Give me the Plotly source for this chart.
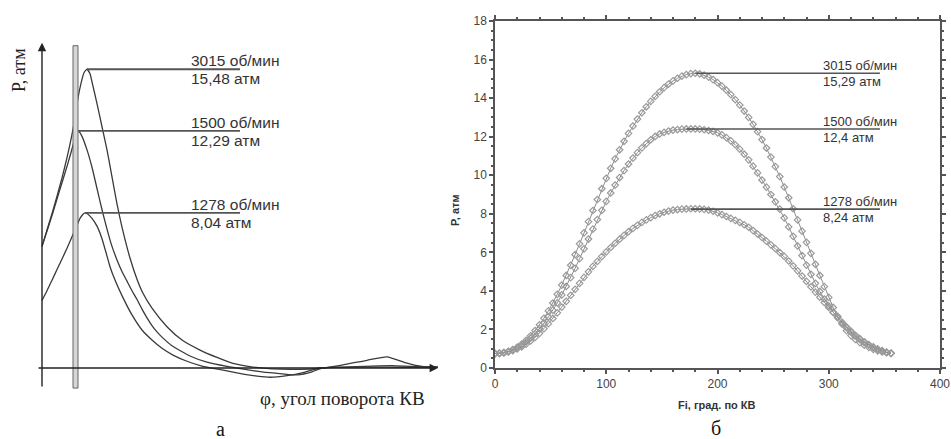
import plotly.graph_objects as go

# ---------- panel "а": schematic pressure curves (arbitrary phi units) ----------
a_u_3015 = [0, 5, 10, 15, 20, 25, 30, 33, 36, 39, 42, 45, 48, 51, 55, 60, 65, 70, 75, 80, 88, 95, 101,
            110, 125, 140, 158, 175, 191, 211, 230, 258, 280, 300, 325, 345, 365, 380, 396]
a_p_3015 = [6.3, 7.15, 8.0, 8.9, 9.85, 10.9, 12.1, 13.0, 14.0, 14.75, 15.3, 15.48, 15.25, 14.6, 13.7, 12.5,
            11.3, 9.9, 8.5, 7.3, 5.7, 4.6, 3.87, 3.1, 2.14, 1.45, 0.93, 0.55, 0.24, 0.05, -0.05, -0.07,
            0.0, 0.15, 0.4, 0.58, 0.25, 0.08, 0.05]

a_u_1500 = [0, 5, 10, 15, 20, 25, 30, 33, 35, 37, 40, 45, 50, 55, 60, 65, 70, 75, 80, 85, 90, 95, 100,
            105, 110, 115, 120, 130, 148, 165, 185, 200, 220, 240, 255, 270, 280, 300, 330, 350, 370, 396]
a_p_1500 = [6.3, 7.1, 7.9, 8.75, 9.6, 10.45, 11.35, 11.95, 12.29, 12.25, 12.0, 11.3, 10.4, 9.3, 8.2, 7.2,
            6.3, 5.6, 5.0, 4.5, 4.0, 3.55, 3.05, 2.6, 2.2, 1.87, 1.6, 1.15, 0.62, 0.3, 0.08, -0.05, -0.2,
            -0.3, -0.36, -0.2, 0.0, 0.05, 0.1, 0.12, 0.08, 0.05]

a_u_1278 = [0, 5, 10, 15, 20, 25, 30, 35, 38, 41, 43, 46, 50, 55, 60, 65, 68, 73, 80, 90, 100, 110, 120,
            131, 145, 160, 180, 200, 215, 228, 245, 260, 278, 300, 330, 360, 396]
a_p_1278 = [3.5, 4.0, 4.55, 5.1, 5.65, 6.2, 6.8, 7.4, 7.75, 7.97, 8.04, 7.97, 7.75, 7.35, 6.7, 5.8, 5.25,
            4.56, 3.75, 2.75, 1.97, 1.45, 1.02, 0.67, 0.35, 0.1, -0.1, -0.3, -0.42, -0.48, -0.4, -0.25,
            0.0, 0.03, 0.05, 0.04, 0.03]

a_rpm = ["3015 об/мин", "1500 об/мин", "1278 об/мин"]
a_peak = ["15,48 атм", "12,29 атм", "8,04 атм"]

# ---------- panel "б": computed pressure vs crank angle ----------
b_phi = list(range(0, 357, 4))
b_p_3015 = [0.75, 0.77, 0.81, 0.87, 0.96, 1.08, 1.24, 1.44, 1.67, 1.94,
            2.24, 2.58, 2.96, 3.37, 3.82, 4.30, 4.80, 5.33, 5.88, 6.44,
            7.01, 7.59, 8.17, 8.74, 9.30, 9.84, 10.36, 10.85, 11.32, 11.76,
            12.17, 12.55, 12.91, 13.24, 13.55, 13.83, 14.09, 14.33, 14.54, 14.73,
            14.89, 15.03, 15.14, 15.22, 15.27, 15.29,
            15.26, 15.19, 15.09, 14.96, 14.80, 14.62, 14.41, 14.18, 13.92, 13.64,
            13.33, 13.00, 12.64, 12.26, 11.85, 11.41, 10.94, 10.45, 9.93, 9.39,
            8.83, 8.26, 7.68, 7.10, 6.52, 5.95, 5.38, 4.80, 4.22, 3.66,
            3.14, 2.68, 2.28, 1.94, 1.68, 1.48, 1.32, 1.18, 1.07, 0.97,
            0.89, 0.83, 0.79, 0.76]
b_p_1500 = [0.75, 0.76, 0.79, 0.85, 0.93, 1.04, 1.18, 1.35, 1.55, 1.78,
            2.04, 2.33, 2.65, 3.00, 3.38, 3.79, 4.23, 4.69, 5.17, 5.67,
            6.18, 6.69, 7.20, 7.70, 8.18, 8.64, 9.08, 9.49, 9.88, 10.24,
            10.58, 10.89, 11.17, 11.42, 11.64, 11.84, 12.01, 12.14, 12.22, 12.29,
            12.34, 12.37, 12.39, 12.40, 12.40, 12.40,
            12.39, 12.36, 12.32, 12.27, 12.20, 12.09, 11.95, 11.78, 11.58, 11.35,
            11.09, 10.80, 10.47, 10.12, 9.75, 9.38, 9.00, 8.62, 8.24, 7.79,
            7.32, 6.83, 6.33, 5.83, 5.34, 4.86, 4.39, 3.97, 3.58, 3.22,
            2.90, 2.61, 2.34, 2.09, 1.86, 1.65, 1.47, 1.31, 1.18, 1.06,
            0.96, 0.88, 0.81, 0.76]
b_p_1278 = [0.75, 0.76, 0.78, 0.83, 0.90, 0.99, 1.10, 1.24, 1.40, 1.59,
            1.80, 2.04, 2.30, 2.57, 2.86, 3.16, 3.46, 3.77, 4.08, 4.39,
            4.70, 4.99, 5.27, 5.53, 5.78, 6.02, 6.25, 6.47, 6.68, 6.88,
            7.07, 7.24, 7.40, 7.55, 7.68, 7.80, 7.91, 8.00, 8.08, 8.14,
            8.19, 8.22, 8.24, 8.25, 8.26, 8.26,
            8.25, 8.23, 8.19, 8.13, 8.05, 7.96, 7.86, 7.76, 7.66, 7.55,
            7.43, 7.30, 7.13, 6.95, 6.77, 6.58, 6.39, 6.19, 5.99, 5.79,
            5.55, 5.30, 5.04, 4.77, 4.49, 4.21, 3.94, 3.67, 3.40, 3.14,
            2.88, 2.62, 2.37, 2.13, 1.91, 1.70, 1.52, 1.36, 1.22, 1.10,
            0.99, 0.90, 0.82, 0.77]

b_rpm = ["3015 об/мин", "1500 об/мин", "1278 об/мин"]
b_peak_vals = [15.29, 12.4, 8.24]
b_peak = ["15,29 атм", "12,4 атм", "8,24 атм"]

SANS = "Liberation Sans, Arial, sans-serif"
SERIF = "Liberation Serif, Times New Roman, serif"
W, H = 951, 439


def px(x):
    return x / W


def py(y):
    return 1 - y / H


def note(x, y, text, font, angle=0):
    # free text placed in page pixels, centred on (x, y)
    return dict(xref="paper", yref="paper", x=px(x), y=py(y), text=text, textangle=angle,
                showarrow=False, xanchor="center", yanchor="middle", font=font)


fig = go.Figure()

# panel а curves
for u, p in [(a_u_3015, a_p_3015), (a_u_1500, a_p_1500), (a_u_1278, a_p_1278)]:
    fig.add_trace(go.Scatter(x=u, y=p, mode="lines", xaxis="x", yaxis="y",
                             line=dict(color="#3a3a3a", width=1.3, shape="spline", smoothing=0.5),
                             showlegend=False, hoverinfo="skip"))

# panel б curves
for p in [b_p_3015, b_p_1500, b_p_1278]:
    fig.add_trace(go.Scatter(x=b_phi, y=p, mode="lines+markers", xaxis="x2", yaxis="y2",
                             line=dict(color="#8c8c8c", width=1),
                             marker=dict(symbol="diamond-open", size=5, color="#9a9a9a",
                                         line=dict(width=1.2, color="#9a9a9a")),
                             showlegend=False, hoverinfo="skip"))

shapes = []
annotations = []

# panel а: peak label lines and texts
for u, p, rpm, pk in [(a_u_3015, a_p_3015, a_rpm[0], a_peak[0]),
                      (a_u_1500, a_p_1500, a_rpm[1], a_peak[1]),
                      (a_u_1278, a_p_1278, a_rpm[2], a_peak[2])]:
    i = p.index(max(p))
    shapes.append(dict(type="line", xref="x", yref="y", x0=u[i], x1=198, y0=p[i], y1=p[i],
                       line=dict(color="#555", width=1.8)))
    annotations.append(dict(xref="x", yref="y", x=147, y=p[i], text=rpm, showarrow=False,
                            xanchor="left", yanchor="bottom", yshift=-2,
                            font=dict(family=SANS, size=15.5, color="#333")))
    annotations.append(dict(xref="x", yref="y", x=147, y=p[i], text=pk, showarrow=False,
                            xanchor="left", yanchor="top", yshift=1,
                            font=dict(family=SANS, size=15.5, color="#333")))

# panel а: double vertical line and axis arrows
shapes.append(dict(type="rect", xref="x", yref="y", x0=31, x1=36, y0=-1.04, y1=16.7,
                   line=dict(color="#666", width=1), fillcolor="#d6d6d6"))
annotations.append(dict(xref="x", yref="y", x=0, y=16.85, ax=0, ay=-1.04, axref="x", ayref="y",
                        text="", showarrow=True, arrowhead=2, arrowsize=1.2, arrowwidth=1.4,
                        arrowcolor="#222"))
annotations.append(dict(xref="x", yref="y", x=396, y=0, ax=-5, ay=0, axref="x", ayref="y",
                        text="", showarrow=True, arrowhead=2, arrowsize=1.2, arrowwidth=1.4,
                        arrowcolor="#222"))
annotations.append(note(19, 70, "Р, атм", dict(family=SERIF, size=18, color="#222"), -90))
annotations.append(note(342, 398, "φ, угол поворота КВ", dict(family=SERIF, size=19, color="#222")))
annotations.append(note(220, 429, "а", dict(family=SERIF, size=20, color="#111")))

# panel б: peak label lines and texts
for p, rpm, pv, pk in zip([b_p_3015, b_p_1500, b_p_1278], b_rpm, b_peak_vals, b_peak):
    i = p.index(max(p))
    shapes.append(dict(type="line", xref="x2", yref="y2", x0=b_phi[i], x1=346, y0=pv, y1=pv,
                       line=dict(color="#555", width=1.6)))
    annotations.append(dict(xref="x2", yref="y2", x=293, y=pv, text=rpm, showarrow=False,
                            xanchor="left", yanchor="bottom", yshift=-2,
                            font=dict(family=SANS, size=13, color="#333")))
    annotations.append(dict(xref="x2", yref="y2", x=293, y=pv, text=pk, showarrow=False,
                            xanchor="left", yanchor="top", yshift=1,
                            font=dict(family=SANS, size=13, color="#333")))

annotations.append(note(455, 210, "<b>Р, атм</b>", dict(family=SANS, size=11, color="#333"), -90))
annotations.append(note(717, 405, "<b>Fi, град. по КВ</b>", dict(family=SANS, size=11, color="#333")))
annotations.append(note(716, 428, "б", dict(family=SERIF, size=20, color="#111")))

axis_b = dict(showline=True, linecolor="#555", linewidth=1.5, mirror="ticks", showgrid=False,
              zeroline=False, ticks="outside", ticklen=4, tickwidth=1.5, tickcolor="#555",
              automargin=False, tickfont=dict(family=SANS, size=12, color="#444"))

fig.update_layout(
    width=W, height=H, margin=dict(l=0, r=0, t=0, b=0, autoexpand=False),
    paper_bgcolor="white", plot_bgcolor="white",
    xaxis=dict(domain=[px(34), px(442)], range=[-8, 400], visible=False, automargin=False),
    yaxis=dict(domain=[py(396.95), py(30.25)], range=[-1.5, 17.5], visible=False,
               automargin=False),
    xaxis2=dict(axis_b, domain=[px(495), px(940)], range=[0, 400], anchor="y2",
                tickvals=[0, 100, 200, 300, 400],
                minor=dict(dtick=20, ticks="outside", ticklen=2, tickcolor="#555")),
    yaxis2=dict(axis_b, domain=[py(368), py(21)], range=[0, 18], anchor="x2",
                dtick=2, minor=dict(dtick=0.5, ticks="outside", ticklen=2, tickcolor="#555")),
    shapes=shapes, annotations=annotations,
)

fig.write_html("out.html", config={"displayModeBar": False},
               post_script="document.body.style.margin='0';")
